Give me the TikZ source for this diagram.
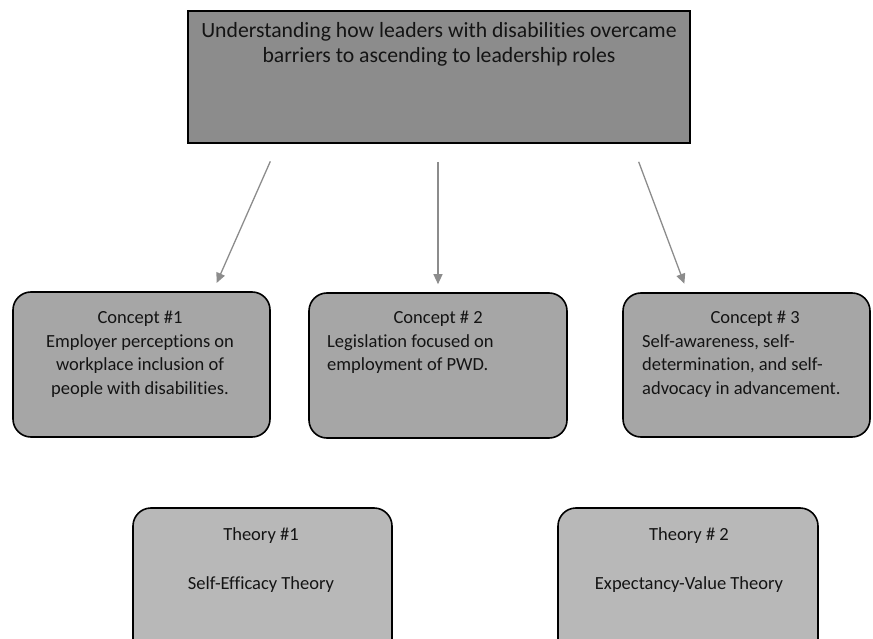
\documentclass[tikz,border=0pt]{standalone}
\usepackage{fontspec}
\setmainfont{Carlito}[Ligatures=NoCommon]
\usetikzlibrary{arrows.meta}
\definecolor{topfill}{HTML}{8C8C8C}
\definecolor{confill}{HTML}{A6A6A6}
\definecolor{thfill}{HTML}{B8B8B8}
\definecolor{arrgray}{HTML}{8C8C8C}
\tikzset{
  topbox/.style={draw=black, line width=2pt, fill=topfill, inner sep=0pt},
  conbox/.style={draw=black, line width=1.6pt, fill=confill, rounded corners=18pt, inner sep=0pt},
  thbox/.style={draw=black, line width=1.6pt, fill=thfill, rounded corners=18pt, inner sep=0pt},
  txt/.style={inner sep=0pt, text=black!92},
  contxt/.style={txt, font=\fontsize{18.5}{23.5}\selectfont},
  arr/.style={draw=arrgray, line width=1.3pt, -{Triangle[width=9pt,length=10pt]}, arrgray},
}
\begin{document}
\begin{tikzpicture}[x=1pt,y=-1pt]
\useasboundingbox (0,0) rectangle (873,639);
\clip (0,0) rectangle (873,639);
% boxes
\node[topbox, minimum width=502pt, minimum height=132pt] (top) at (439,77) {};
\node[conbox, minimum width=257pt, minimum height=145pt] (c1) at (141.5,364.5) {};
\node[conbox, minimum width=258pt, minimum height=145pt] (c2) at (438,365.5) {};
\node[conbox, minimum width=247pt, minimum height=144pt] (c3) at (746.5,365) {};
\node[thbox, minimum width=259pt, minimum height=160pt] (t1) at (262.5,588) {};
\node[thbox, minimum width=260pt, minimum height=160pt] (t2) at (688,588) {};
% texts
\node[txt, font=\fontsize{21.7}{25}\selectfont, align=center, anchor=north] (toptxt) at (439,22.5)
  {Understanding how leaders with disabilities overcame\\barriers to ascending to leadership roles};
\node[contxt, align=center, anchor=north] (c1txt) at (140,311.3)
  {Concept \#1\\Employer perceptions on\\workplace inclusion of\\people with disabilities.};
\node[contxt, align=flush left, text width=222pt, anchor=north west] (c2txt) at (327,311.3)
  {\makebox[\linewidth][c]{Concept \# 2}\\Legislation focused on\\employment of PWD.};
\node[contxt, align=flush left, text width=226pt, anchor=north west] (c3txt) at (642,311.3)
  {\makebox[\linewidth][c]{Concept \# 3}\\Self-awareness, self-\\determination, and self-\\advocacy in advancement.};
\node[contxt, align=center, anchor=north] (t1txt) at (261,527)
  {Theory \#1\\[26pt]Self-Efficacy Theory};
\node[contxt, align=center, anchor=north] (t2txt) at (689,527)
  {Theory \# 2\\[26pt]Expectancy-Value Theory};
% arrows
\draw[arr, shorten <=19pt, shorten >=9pt] ([xshift=-161pt]top.south) -- ([xshift=71.5pt]c1.north);
\draw[arr, shorten <=18pt, shorten >=8pt] ([xshift=-1pt]top.south) -- (c2.north);
\draw[arr, shorten <=19pt, shorten >=9pt] ([xshift=193pt]top.south) -- ([xshift=-59pt]c3.north);
\end{tikzpicture}
\end{document}
